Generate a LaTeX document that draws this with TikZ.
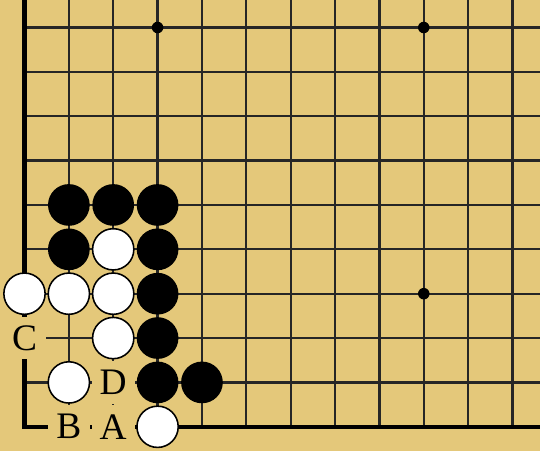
\documentclass[tikz,border=0pt]{standalone}
\usepackage{fontspec}
\setmainfont{Liberation Serif}
\definecolor{goban}{RGB}{228,200,122}
\tikzset{
  go/grid/.style={line width=1.5pt, black!85},
  go/edge/.style={line width=2.8pt, line join=miter},
  go/hoshi/.style={circle, fill=black, inner sep=0pt, minimum size=2.6mm},
  go/black/.style={circle, fill=black, inner sep=0pt, minimum size=9.4mm},
  go/white/.style={circle, draw=black, line width=1pt, fill=white, inner sep=0pt, minimum size=9.3mm},
  go/label/.style={rectangle, fill=goban, inner sep=0pt, minimum size=9.6mm, font=\fontsize{24}{24}\selectfont}
}

\begin{document}
\begin{tikzpicture}
  \fill[goban] (-0.552,-0.54) rectangle (11.62,9.62);
  \useasboundingbox (-0.552,-0.54) rectangle (11.62,9.62);

  % grid and board edges
  \foreach \x in {1,...,11} \draw[go/grid] (\x,0) -- (\x,9.62);
  \foreach \y in {1,...,9} \draw[go/grid] (0,\y) -- (11.62,\y);
  \draw[go/edge] (0,9.62) -- (0,0) -- (11.62,0);

  \foreach \x/\y [count=\i] in {3/9, 9/9, 9/3}
    \node[go/hoshi] (hoshi\i) at (\x,\y) {};

  % letters on empty points
  \node[go/label] (lblC) at (0,2) {C};
  \node[go/label] (lblD) at (2,1) {D};
  \node[go/label] (lblB) at (1,0) {B};
  \node[go/label] (lblA) at (2,0) {A};

  % stones
  \foreach \x/\y [count=\i] in {1/5, 2/5, 3/5, 1/4, 3/4, 3/3, 3/2, 3/1, 4/1}
    \node[go/black] (b\i) at (\x,\y) {};
  \foreach \x/\y [count=\i] in {2/4, 0/3, 1/3, 2/3, 2/2, 1/1, 3/0}
    \node[go/white] (w\i) at (\x,\y) {};
\end{tikzpicture}
\end{document}
